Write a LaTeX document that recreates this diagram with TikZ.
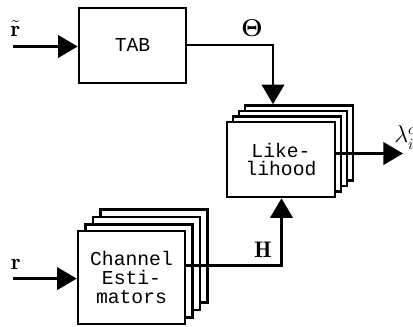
\documentclass[tikz,border=0pt]{standalone}
\usepackage{amsmath}
\usepackage{fontspec}
\newfontfamily\boxfont{Liberation Mono}
\usetikzlibrary{arrows.meta, positioning}

\begin{document}
\begin{tikzpicture}[
  x=0.025cm, y=-0.025cm,
  >={Triangle[length=14pt, width=16pt]},
  block/.style={draw, line width=1.8pt, fill=white, inner sep=0pt, align=center,
    font=\boxfont\fontsize{14}{13.5}\selectfont},
  likebox/.style={block, minimum width=2.7cm, minimum height=1.875cm},
  estbox/.style={block, minimum width=2.675cm, minimum height=2.325cm},
  sig/.style={line width=1.8pt},
  lbl/.style={font=\fontsize{16}{18}\selectfont},
]
\useasboundingbox (0,0) rectangle (413,327);

% --- TAB ---
\node[block, minimum width=2.675cm, minimum height=1.875cm] (tab) at (132.5,45.5) {TAB};

% --- Likelihood stack ---
\foreach \k in {3,2,1}
  \node[likebox] (like\k) at (281+6*\k, 159.5-5.5*\k) {};
\node[likebox] (like) at (281,159.5) {Like-\\lihood};

% --- Channel estimator stack ---
\foreach \k in {3,2,1}
  \node[estbox] (est\k) at (131.5+7.5*\k, 278.5-7.5*\k) {};
\node[estbox] (est) at (131.5,277.5) {Channel\\Esti-\\mators};

% --- Inputs ---
\coordinate (rtin) at (13,46.5);
\draw[sig, ->] (rtin) -- (rtin -| tab.west);
\node[lbl] (rtlbl) at (15.5,29) {$\tilde{\mathbf{r}}$};

\coordinate (rin) at (13,278.6);
\draw[sig, ->] (rin) -- (rin -| est.west);
\node[lbl] (rlbl) at (16,264) {$\mathbf{r}$};

% --- Theta ---
\coordinate (thbend) at (273,45);
\draw[sig, ->] (tab.east |- thbend) -- (thbend) -- (thbend |- like3.north);
\node[lbl] (thlbl) at (252,28) {$\boldsymbol{\Theta}$};

% --- H ---
\coordinate (hbend) at (281.5,265.5);
\draw[sig, ->] (est.east |- hbend) -- (hbend) -- (hbend |- like.south);
\node[lbl] (hlbl) at (263,250) {$\mathbf{H}$};

% --- Output ---
\coordinate (lamout) at (403,153.5);
\draw[sig, ->] (like.east |- lamout) -- (lamout);
\node[lbl, anchor=base west, inner sep=0pt] (lamlbl) at (394,143) {$\lambda_i^c$};

\end{tikzpicture}
\end{document}
